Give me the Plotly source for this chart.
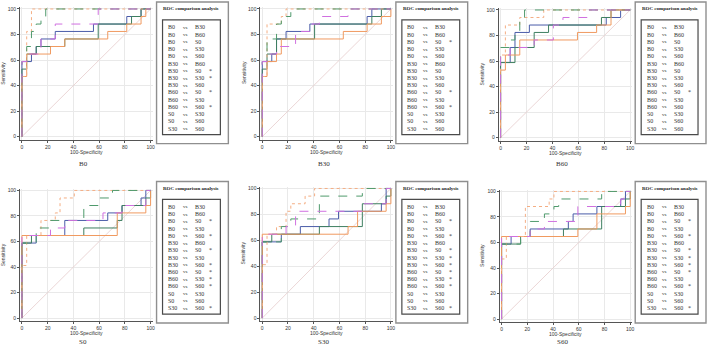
import plotly.graph_objects as go

W, H = 709, 347

SERIES = ["B0", "B30", "B60", "S0", "S30", "S60"]
PANELS = ["B0", "B30", "B60", "S0", "S30", "S60"]
TICKS = [0, 20, 40, 60, 80, 100]

# ROC corner points (100-Specificity, Sensitivity) per panel, one list per series (B0,B30,B60,S0,S30,S60)
FPR_B0 = [[0, 0, 7.4, 11.1, 14.8, 25.9, 55.6, 81.5, 92.6, 100],
          [0, 0, 3.7, 11.1, 33.3, 59.3, 85.2, 92.6, 100],
          [0, 0, 3.7, 22.2, 33.3, 66.7, 81.5, 92.6, 96.3, 100],
          [0, 0, 3.7, 7.4, 100],
          [0, 0, 3.7, 7.4, 11.1, 14.8, 18.5, 100],
          [0, 0, 3.7, 14.8, 25.9, 59.3, 100]]
TPR_B0 = [[0, 58.8, 64.7, 70.6, 76.5, 82.4, 88.2, 94.1, 100, 100],
          [0, 52.9, 64.7, 70.6, 76.5, 88.2, 94.1, 100, 100],
          [0, 47.1, 64.7, 70.6, 76.5, 82.4, 88.2, 94.1, 100, 100],
          [0, 47.1, 82.4, 100, 100],
          [0, 58.8, 70.6, 82.4, 88.2, 94.1, 100, 100],
          [0, 58.8, 64.7, 76.5, 88.2, 100, 100]]

FPR_B30 = [[0, 0, 7.4, 11.1, 18.5, 37, 81.5, 85.2, 100],
           [0, 0, 3.7, 11.1, 40.7, 85.2, 92.6, 100],
           [0, 0, 3.7, 11.1, 14.8, 63, 81.5, 92.6, 100],
           [0, 0, 3.7, 14.8, 18.5, 100],
           [0, 0, 3.7, 11.1, 14.8, 22.2, 100],
           [0, 0, 3.7, 11.1, 25.9, 37, 44.4, 66.7, 100]]
TPR_B30 = [[0, 58.8, 64.7, 76.5, 82.4, 88.2, 94.1, 100, 100],
           [0, 52.9, 64.7, 76.5, 88.2, 94.1, 100, 100],
           [0, 47.1, 58.8, 64.7, 76.5, 82.4, 88.2, 94.1, 100],
           [0, 47.1, 88.2, 94.1, 100, 100],
           [0, 58.8, 76.5, 88.2, 94.1, 100, 100],
           [0, 58.8, 64.7, 70.6, 82.4, 88.2, 94.1, 100, 100]]

FPR_B60 = [[0, 0, 7.4, 11.1, 22.2, 81.5, 92.6, 100],
           [0, 0, 11.1, 25.9, 37, 77.8, 85.2, 100],
           [0, 0, 3.7, 14.8, 59.3, 74.1, 85.2, 100],
           [0, 0, 3.7, 14.8, 33.3, 100],
           [0, 0, 7.4, 11.1, 14.8, 18.5, 100],
           [0, 0, 7.4, 25.9, 40.7, 48.1, 66.7, 100]]
TPR_B60 = [[0, 58.8, 70.6, 82.4, 88.2, 94.1, 100, 100],
           [0, 58.8, 70.6, 82.4, 88.2, 94.1, 100, 100],
           [0, 52.9, 64.7, 76.5, 82.4, 88.2, 100, 100],
           [0, 64.7, 88.2, 94.1, 100, 100],
           [0, 70.6, 76.5, 82.4, 94.1, 100, 100],
           [0, 64.7, 70.6, 76.5, 88.2, 94.1, 100, 100]]

FPR_S0 = [[0, 0, 11.1, 33.3, 66.7, 77.8, 92.6, 96.3, 100],
          [0, 0, 7.4, 48.1, 74.1, 77.8, 96.3, 100],
          [0, 0, 74.1, 96.3, 100],
          [0, 0, 3.7, 14.8, 25.9, 29.6, 40.7, 100],
          [0, 0, 11.1, 22.2, 48.1, 59.3, 70.4, 100],
          [0, 0, 22.2, 33.3, 63, 77.8, 96.3, 100]]
TPR_S0 = [[0, 58.8, 64.7, 76.5, 82.4, 88.2, 94.1, 100, 100],
          [0, 58.8, 64.7, 70.6, 76.5, 88.2, 94.1, 100],
          [0, 64.7, 82.4, 88.2, 100],
          [0, 41.2, 64.7, 76.5, 82.4, 94.1, 100, 100],
          [0, 58.8, 70.6, 76.5, 88.2, 94.1, 100, 100],
          [0, 64.7, 70.6, 76.5, 82.4, 88.2, 100, 100]]

FPR_S30 = [[0, 0, 14.8, 29.6, 51.9, 59.3, 92.6, 96.3, 100],
           [0, 0, 7.4, 44.4, 77.8, 96.3, 100],
           [0, 0, 66.7, 74.1, 96.3, 100],
           [0, 0, 3.7, 11.1, 18.5, 22.2, 33.3, 40.7, 100],
           [0, 0, 14.8, 22.2, 44.4, 77.8, 100],
           [0, 0, 18.5, 25.9, 77.8, 96.3, 100]]
TPR_S30 = [[0, 58.8, 64.7, 70.6, 76.5, 82.4, 88.2, 100, 100],
           [0, 58.8, 64.7, 70.6, 88.2, 94.1, 100],
           [0, 64.7, 70.6, 82.4, 88.2, 100],
           [0, 41.2, 64.7, 70.6, 82.4, 88.2, 94.1, 100, 100],
           [0, 58.8, 70.6, 76.5, 94.1, 100, 100],
           [0, 64.7, 70.6, 82.4, 88.2, 100, 100]]

FPR_S60 = [[0, 0, 7.4, 22.2, 51.9, 55.6, 74.1, 92.6, 96.3, 100],
           [0, 0, 14.8, 48.1, 77.8, 96.3, 100],
           [0, 0, 59.3, 74.1, 96.3, 100],
           [0, 0, 3.7, 18.5, 37, 40.7, 100],
           [0, 0, 14.8, 22.2, 33.3, 40.7, 44.4, 77.8, 100],
           [0, 0, 22.2, 33.3, 59.3, 92.6, 96.3, 100]]
TPR_S60 = [[0, 58.8, 64.7, 70.6, 76.5, 82.4, 88.2, 94.1, 100, 100],
           [0, 58.8, 64.7, 70.6, 88.2, 94.1, 100],
           [0, 64.7, 70.6, 82.4, 88.2, 100],
           [0, 47.1, 64.7, 88.2, 94.1, 100, 100],
           [0, 58.8, 64.7, 76.5, 82.4, 88.2, 94.1, 100, 100],
           [0, 64.7, 70.6, 76.5, 88.2, 94.1, 100, 100]]

PAIR_A = ["B0", "B0", "B0", "B0", "B0", "B30", "B30", "B30", "B30", "B60", "B60", "B60", "S0", "S0", "S30"]
PAIR_B = ["B30", "B60", "S0", "S30", "S60", "B60", "S0", "S30", "S60", "S0", "S30", "S60", "S30", "S60", "S60"]

# significant comparisons (1 = marked with *) per panel
STAR_B0 = [0, 0, 0, 0, 0, 0, 1, 1, 0, 1, 0, 1, 0, 0, 0]
STAR_B30 = [0, 0, 1, 0, 0, 0, 0, 0, 0, 1, 0, 1, 0, 0, 0]
STAR_B60 = [0, 0, 0, 0, 0, 0, 0, 0, 0, 1, 0, 0, 0, 0, 0]
STAR_S0 = [0, 0, 1, 0, 1, 0, 1, 0, 1, 1, 1, 1, 0, 0, 1]
STAR_S30 = [0, 0, 1, 0, 1, 0, 1, 1, 1, 1, 1, 1, 0, 0, 1]
STAR_S60 = [0, 0, 1, 0, 1, 0, 1, 1, 1, 1, 0, 1, 0, 0, 1]

FPRS = [FPR_B0, FPR_B30, FPR_B60, FPR_S0, FPR_S30, FPR_S60]
TPRS = [TPR_B0, TPR_B30, TPR_B60, TPR_S0, TPR_S30, TPR_S60]
STARS = [STAR_B0, STAR_B30, STAR_B60, STAR_S0, STAR_S30, STAR_S60]

STYLE = {
    "B0": ("#4a5ca8", "solid"),
    "B30": ("#3e7f60", "solid"),
    "B60": ("#f09a60", "solid"),
    "S0": ("#f4ae84", "dot"),
    "S30": ("#4f9a6c", "dash"),
    "S60": ("#d070e0", "dash"),
}

# geometry in pixels
GEOM = [
    dict(x0=22, x100=151, y100=8, y0=136, tx=157, ty=1, tw=72, cap=163),
    dict(x0=263, x100=392, y100=8, y0=136, tx=397, ty=1, tw=72, cap=163),
    dict(x0=502, x100=632, y100=9, y0=137, tx=637, ty=1, tw=71, cap=163),
    dict(x0=22, x100=151, y100=190, y0=318, tx=157, ty=181, tw=72, cap=342),
    dict(x0=263, x100=392, y100=188, y0=318, tx=397, ty=181, tw=72, cap=342),
    dict(x0=503, x100=632, y100=191, y0=319, tx=637, ty=181, tw=71, cap=342),
]

def px(x):
    return x / W

def py(y):
    return 1 - y / H

fig = go.Figure()
shapes = []
annotations = []
XR = [-1.5, 101.5]
YR = [-2.5, 101.5]
tickfont = dict(family="Liberation Sans, Arial", size=5, color="#333")
serif = "Liberation Serif, Times New Roman, serif"

for i, name in enumerate(PANELS):
    g = GEOM[i]
    sx = (g["x100"] - g["x0"]) / 100
    sy = (g["y0"] - g["y100"]) / 100
    xl = g["x0"] + XR[0] * sx
    xr = g["x0"] + XR[1] * sx
    yb = g["y0"] - YR[0] * sy
    yt = g["y0"] - YR[1] * sy
    k = "" if i == 0 else str(i + 1)
    xa, ya = "x" + k, "y" + k
    axcommon = dict(
        tickvals=TICKS, ticks="outside", ticklen=2, tickwidth=0.8, tickcolor="#555",
        showline=True, linecolor="#555", linewidth=0.8, mirror=False,
        showgrid=True, gridcolor="#e9e9e9", gridwidth=0.6, zeroline=False,
        tickfont=tickfont, fixedrange=True,
    )
    fig.update_layout(**{
        "xaxis" + k: dict(domain=[px(xl), px(xr)], range=XR, anchor=ya, **axcommon),
        "yaxis" + k: dict(domain=[py(yb), py(yt)], range=YR, anchor=xa, **axcommon),
    })
    # diagonal
    fig.add_trace(go.Scatter(x=[0, 100], y=[0, 100], mode="lines", xaxis=xa, yaxis=ya,
                             line=dict(color="#e6cccc", width=0.8), hoverinfo="skip", showlegend=False))
    for j, s in enumerate(SERIES):
        col, dash = STYLE[s]
        fig.add_trace(go.Scatter(x=FPRS[i][j], y=TPRS[i][j], mode="lines", line_shape="hv",
                                 xaxis=xa, yaxis=ya, name=s,
                                 line=dict(color=col, width=1, dash=dash),
                                 hoverinfo="skip", showlegend=False))
    cx = (g["x0"] + g["x100"]) / 2
    annotations.append(dict(text="100-Specificity", x=px(cx), y=py(yb + 12), xref="paper", yref="paper",
                            showarrow=False, font=dict(family="Liberation Sans, Arial", size=5, color="#333"),
                            xanchor="center", yanchor="middle"))
    annotations.append(dict(text="Sensitivity", x=px(g["x0"] - 19), y=py((g["y0"] + g["y100"]) / 2),
                            xref="paper", yref="paper", showarrow=False, textangle=-90,
                            font=dict(family="Liberation Sans, Arial", size=5, color="#333"),
                            xanchor="center", yanchor="middle"))
    annotations.append(dict(text=name, x=px(cx - 3), y=py(g["cap"]), xref="paper", yref="paper",
                            showarrow=False, font=dict(family=serif, size=7, color="#333"),
                            xanchor="center", yanchor="middle"))
    # comparison table
    tx, ty, tw = g["tx"], g["ty"], g["tw"]
    shapes.append(dict(type="rect", xref="paper", yref="paper", x0=px(tx), x1=px(tx + tw),
                       y0=py(ty + 142), y1=py(ty), line=dict(color="#8f8f8f", width=1.4)))
    shapes.append(dict(type="rect", xref="paper", yref="paper", x0=px(tx + 6), x1=px(tx + tw - 8),
                       y0=py(ty + 133), y1=py(ty + 18), line=dict(color="#4a4a4a", width=1.2)))
    annotations.append(dict(text="<b>ROC comparison analysis</b>", x=px(tx + tw / 2 - 1), y=py(ty + 7),
                            xref="paper", yref="paper", showarrow=False,
                            font=dict(family=serif, size=5, color="#222"),
                            xanchor="center", yanchor="middle"))
    for r in range(len(PAIR_A)):
        yy = py(ty + 25.5 + r * 7.25)
        rowfont = dict(family=serif, size=6, color="#333")
        annotations.append(dict(text=PAIR_A[r], x=px(tx + 9.5), y=yy, xref="paper", yref="paper",
                                showarrow=False, font=rowfont, xanchor="left", yanchor="middle"))
        annotations.append(dict(text="vs", x=px(tx + 25), y=yy, xref="paper", yref="paper",
                                showarrow=False, font=dict(family=serif, size=5, color="#333"),
                                xanchor="left", yanchor="middle"))
        annotations.append(dict(text=PAIR_B[r], x=px(tx + 37), y=yy, xref="paper", yref="paper",
                                showarrow=False, font=rowfont, xanchor="left", yanchor="middle"))
        if STARS[i][r]:
            annotations.append(dict(text="*", x=px(tx + 51), y=yy, xref="paper", yref="paper",
                                    showarrow=False, font=rowfont, xanchor="left", yanchor="middle"))

fig.update_layout(
    width=W, height=H, margin=dict(l=0, r=0, t=0, b=0),
    paper_bgcolor="white", plot_bgcolor="white",
    shapes=shapes, annotations=annotations, showlegend=False,
)

fig.write_html("out.html", config=dict(displayModeBar=False))

# remove the default page margin so the figure sits at the window's top-left corner
with open("out.html", encoding="utf-8") as f:
    html = f.read()
html = html.replace("<body>", '<body style="margin:0;padding:0;overflow:hidden">', 1)
with open("out.html", "w", encoding="utf-8") as f:
    f.write(html)
